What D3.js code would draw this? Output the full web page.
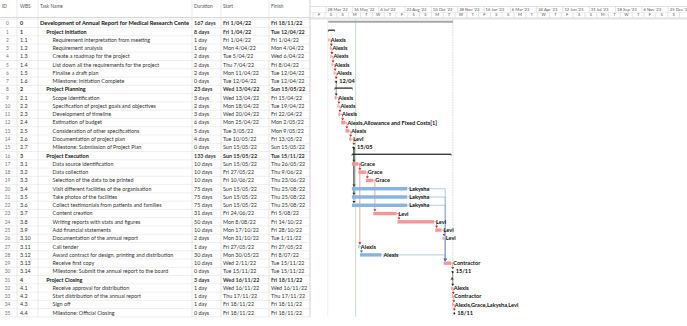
<!DOCTYPE html>
<html lang="en">
<head>
<meta charset="UTF-8">
<title>Annual Report Schedule</title>
<style>
  body { margin: 0; background: #fff; }
  svg text { font-family: Lato, "Liberation Sans", sans-serif; }
</style>
</head>
<body>
<script src="https://d3js.org/d3.v7.min.js"></script>
<div id="gantt"></div>
<script>
// ---- schedule data ----
var wbs = ["0","1","1.1","1.2","1.3","1.4","1.5","1.6","2","2.1","2.2","2.3","2.4","2.5","2.6","2.7",
  "3","3.1","3.2","3.3","3.4","3.5","3.6","3.7","3.8","3.9","3.10","3.11","3.12","3.13","3.14",
  "4","4.1","4.2","4.3","4.4"];
var names = [
  "Development of Annual Report for Medical Research Cente",
  "Project Initiation",
  "Requirement interpretation from meeting",
  "Requirement analysis",
  "Create a roadmap for the project",
  "List down all the requirements  for the project",
  "Finalise a draft plan",
  "Milestone: Initiation Complete",
  "Project Planning",
  "Scope identification",
  "Specification of project goals and objectives",
  "Development of timeline",
  "Estimation of budget",
  "Consideration of other specifications",
  "Documentation of project plan",
  "Milestone: Submission of Project Plan",
  "Project Execution",
  "Data source identification",
  "Data collection",
  "Selection of the data to be printed",
  "Visit different facilities of the organisation",
  "Take photos of the facilities",
  "Collect testimonials from patients and families",
  "Content creation",
  "Writing reports with stats and figures",
  "Add financial statements",
  "Documentation of the annual report",
  "Call tender",
  "Award contract for design, printing and distribution",
  "Receive first copy",
  "Milestone: Submit the annual report to the board",
  "Project Closing",
  "Receive approval for distribution",
  "Start distribution of the annual report",
  "Sign off",
  "Milestone: Official Closing"
];
var levels = [0,1,2,2,2,2,2,2,1,2,2,2,2,2,2,2,1,2,2,2,2,2,2,2,2,2,2,2,2,2,2,1,2,2,2,2];
var kinds = ["project","summary","task","task","task","task","task","milestone",
  "summary","task","task","task","task","task","task","milestone",
  "summary","task","task","task","task","task","task","task","task","task","task","task","task","task","milestone",
  "summary","task","task","task","milestone"];
var durations = [167,8,1,1,2,2,2,0,23,3,2,3,6,5,4,0,133,10,10,10,75,75,75,31,50,10,2,1,30,10,0,3,1,1,1,0];
var starts = ["2022-04-01","2022-04-01","2022-04-01","2022-04-04","2022-04-05","2022-04-07","2022-04-11","2022-04-12",
  "2022-04-13","2022-04-13","2022-04-18","2022-04-20","2022-04-25","2022-05-03","2022-05-10","2022-05-15",
  "2022-05-15","2022-05-15","2022-05-27","2022-06-10","2022-05-15","2022-05-15","2022-05-15","2022-06-24",
  "2022-08-08","2022-10-17","2022-10-31","2022-05-27","2022-05-30","2022-11-02","2022-11-15",
  "2022-11-16","2022-11-16","2022-11-17","2022-11-18","2022-11-18"];
var finishes = ["2022-11-18","2022-04-12","2022-04-01","2022-04-04","2022-04-06","2022-04-08","2022-04-12","2022-04-12",
  "2022-05-15","2022-04-15","2022-04-19","2022-04-22","2022-05-02","2022-05-09","2022-05-13","2022-05-15",
  "2022-11-15","2022-05-26","2022-06-09","2022-06-23","2022-08-25","2022-08-25","2022-08-25","2022-08-05",
  "2022-10-14","2022-10-28","2022-11-01","2022-05-27","2022-07-08","2022-11-15","2022-11-15",
  "2022-11-18","2022-11-16","2022-11-17","2022-11-18","2022-11-18"];
var resources = ["","","Alexis","Alexis","Alexis","Alexis","Alexis","",
  "","Alexis","Alexis","Alexis","Alexis,Allowance and Fixed Costs[1]","Alexis","Levi","",
  "","Grace","Grace","Grace","Lakysha","Lakysha","Lakysha","Levi","Levi","Levi","Levi","Alexis","Alexis","Contractor","",
  "","Alexis","Contractor","Alexis,Grace,Lakysha,Levi",""];
var critical = [1,1,1,1,1,1,1,1,1,1,1,1,1,1,1,1,1,1,1,1,0,0,0,1,1,1,1,0,0,1,1,1,1,1,1,1];
var predecessors = [[],[],[],[2],[3],[4],[5],[6],[],[7],[9],[10],[11],[12],[13],[14],
  [],[15],[17],[18],[15],[15],[15],[19],[23],[24],[25],[17],[27],[26,28,20,21,22],[29],
  [],[30],[32],[33],[34]];

var statusDate = "2022-05-22";
var headers = ["ID", "WBS", "Task Name", "Duration", "Start", "Finish"];

// ---- layout ----
var W = 687, H = 326;
var parse = d3.timeParse("%Y-%m-%d");
var fmtDate = d3.timeFormat("%a %-d/%m/%y");
var fmtMile = d3.timeFormat("%d/%m");
var fmtTop = d3.timeFormat("%-d %b '%y");
var fmtDay = d3.timeFormat("%a");

var tasks = wbs.map(function(w, i) {
  return { id: i, wbs: w, name: names[i], level: levels[i], kind: kinds[i], dur: durations[i],
    start: parse(starts[i]), finish: parse(finishes[i]), res: resources[i],
    crit: critical[i] === 1, preds: predecessors[i] };
});

var chartLeft = 310;
var x = d3.scaleTime()
  .domain([new Date(2022, 1, 26), new Date(2024, 0, 29)])
  .range([chartLeft, W]);

var y = d3.scaleBand()
  .domain(tasks.map(function(d) { return d.id; }))
  .range([19.2, 19.2 + 36 * 8.27]);
var rowH = y.bandwidth();
function cy(d) { return y(d.id) + rowH / 2; }
function xStart(d) { return x(d.start); }
function xEnd(d) { return x(d3.timeDay.offset(d.finish, 1)); }

var cols = [0, 17, 38, 192, 221, 269, chartLeft];

var svg = d3.select("#gantt").append("svg")
  .attr("width", W).attr("height", H);

// ---- table ----
var table = svg.append("g");
var tableBottom = y.range()[1];

// name column clip, in each row's local coordinates
table.append("clipPath").attr("id", "nameClip")
  .append("rect").attr("x", cols[2]).attr("y", -8).attr("width", cols[3] - cols[2] - 0.5).attr("height", 12);

// row separators
table.selectAll("line.row")
  .data(d3.range(37))
  .join("line")
  .attr("x1", 0).attr("x2", chartLeft)
  .attr("y1", function(i) { return 19.2 + i * 8.27; })
  .attr("y2", function(i) { return 19.2 + i * 8.27; })
  .attr("stroke", "#e4e4e4").attr("stroke-width", 0.6);

// column separators
table.selectAll("line.col")
  .data(cols.slice(1))
  .join("line")
  .attr("x1", function(c) { return c; }).attr("x2", function(c) { return c; })
  .attr("y1", 0).attr("y2", tableBottom)
  .attr("stroke", "#dcdcdc").attr("stroke-width", 0.6);

table.append("line")
  .attr("x1", 0).attr("x2", chartLeft).attr("y1", 17.5).attr("y2", 17.5)
  .attr("stroke", "#cfcfcf").attr("stroke-width", 0.8);

// header labels
var headX = [2, 20, 40, 194, 223, 271];
table.selectAll("text.head")
  .data(headers)
  .join("text")
  .attr("x", function(d, i) { return headX[i]; })
  .attr("y", 7.5)
  .attr("font-size", 4.8)
  .attr("fill", "#555")
  .text(function(d) { return d; });

var rows = table.selectAll("g.trow")
  .data(tasks)
  .join("g")
  .attr("transform", function(d) { return "translate(0," + (cy(d) + 1.9) + ")"; })
  .attr("font-size", 5.4)
  .attr("fill", "#333");

function isBold(d) { return d.kind === "project" || d.kind === "summary"; }

rows.append("text").attr("x", 7.5).attr("text-anchor", "middle")
  .attr("fill", "#777").attr("font-size", 4.8)
  .text(function(d) { return d.id; });
rows.append("text").attr("x", 20)
  .attr("font-weight", function(d) { return isBold(d) ? "bold" : null; })
  .text(function(d) { return d.wbs; });
rows.append("text")
  .attr("clip-path", "url(#nameClip)")
  .attr("x", function(d) { return 40 + d.level * 6.3; })
  .attr("font-weight", function(d) { return isBold(d) ? "bold" : null; })
  .attr("fill", function(d) { return isBold(d) ? "#111" : "#333"; })
  .attr("font-size", function(d) { return d.kind === "project" ? 5.7 : 5.4; })
  .text(function(d) { return d.name; });
rows.append("text").attr("x", 194)
  .attr("font-weight", function(d) { return isBold(d) ? "bold" : null; })
  .text(function(d) { return d.dur + (d.dur === 1 ? " day" : " days"); });
rows.append("text").attr("x", 223)
  .attr("font-weight", function(d) { return isBold(d) ? "bold" : null; })
  .text(function(d) { return fmtDate(d.start); });
rows.append("text").attr("x", 271)
  .attr("font-weight", function(d) { return isBold(d) ? "bold" : null; })
  .text(function(d) { return fmtDate(d.finish); });

// ---- timescale header ----
var head = svg.append("g");
var topTicks = d3.range(-1, 14).map(function(i) { return d3.timeDay.offset(new Date(2022, 2, 28), 49 * i); });
var dayTicks = d3.range(0, 33).map(function(i) { return d3.timeDay.offset(new Date(2022, 2, 4), 22 * i); });

head.append("clipPath").attr("id", "headClip")
  .append("rect").attr("x", chartLeft).attr("y", 0).attr("width", W - chartLeft).attr("height", 20);

head.append("line").attr("x1", chartLeft).attr("x2", W).attr("y1", 6.5).attr("y2", 6.5)
  .attr("stroke", "#d0d0d0").attr("stroke-width", 0.6);
head.append("line").attr("x1", chartLeft).attr("x2", W).attr("y1", 12.5).attr("y2", 12.5)
  .attr("stroke", "#e0e0e0").attr("stroke-width", 0.5);
head.append("rect").attr("x", chartLeft).attr("y", 17.3).attr("width", W - chartLeft).attr("height", 2.2)
  .attr("fill", "#e3e3e3");

head.selectAll("line.top")
  .data(topTicks.filter(function(t) { return x(t) > chartLeft; }))
  .join("line")
  .attr("x1", function(t) { return x(t); }).attr("x2", function(t) { return x(t); })
  .attr("y1", 6.5).attr("y2", 12.5)
  .attr("stroke", "#c8c8c8").attr("stroke-width", 0.5);
head.append("g").attr("clip-path", "url(#headClip)")
  .selectAll("text.top")
  .data(topTicks.filter(function(t) { return x(t) > chartLeft && x(t) < W - 6; }))
  .join("text")
  .attr("x", function(t) { return x(t) + 1.5; })
  .attr("y", 11)
  .attr("font-size", 4.2)
  .attr("fill", "#555")
  .text(function(t) { return fmtTop(t); });

head.selectAll("line.day")
  .data(dayTicks.filter(function(t) { return x(t) > chartLeft && x(t) < W; }))
  .join("line")
  .attr("x1", function(t) { return x(t); }).attr("x2", function(t) { return x(t); })
  .attr("y1", 12.5).attr("y2", 17.3)
  .attr("stroke", "#c8c8c8").attr("stroke-width", 0.5);
head.selectAll("text.day")
  .data(dayTicks.filter(function(t) { return x(d3.timeDay.offset(t, 11)) < W - 2; }))
  .join("text")
  .attr("x", function(t) { return x(d3.timeDay.offset(t, 11)); })
  .attr("y", 16.3)
  .attr("text-anchor", "middle")
  .attr("font-size", 4.2)
  .attr("fill", "#555")
  .text(function(t) { return fmtDay(t).charAt(0); });

// ---- gantt body ----
var body = svg.append("g");
var proj = tasks[0];

body.append("line")
  .attr("x1", chartLeft).attr("x2", chartLeft).attr("y1", 0).attr("y2", tableBottom)
  .attr("stroke", "#cfcfcf").attr("stroke-width", 0.6);
body.append("line")
  .attr("x1", xStart(proj) - 0.5).attr("x2", xStart(proj) - 0.5).attr("y1", 19.5).attr("y2", tableBottom)
  .attr("stroke", "#bdbdbd").attr("stroke-width", 0.5).attr("stroke-dasharray", "1,1");
body.append("line")
  .attr("x1", xEnd(proj)).attr("x2", xEnd(proj)).attr("y1", 19.5).attr("y2", tableBottom)
  .attr("stroke", "#b0b0b0").attr("stroke-width", 0.5).attr("stroke-dasharray", "1.5,1");
body.append("line")
  .attr("x1", x(parse(statusDate))).attr("x2", x(parse(statusDate)))
  .attr("y1", 19.5).attr("y2", tableBottom)
  .attr("stroke", "#9ccf9c").attr("stroke-width", 0.6);

var barH = 3.4;
var red = "#f39797", blue = "#86b5e5";

function milestoneX(d) { return xEnd(d); }
function topOf(d) {
  if (d.kind === "milestone") return cy(d) - 1.8;
  return cy(d) - barH / 2;
}
function linkColor(p) {
  if (p.kind === "milestone") return "#4a4a4a";
  return p.crit ? "#e26a6a" : "#7ea9d9";
}
function arrowColor(p) {
  if (p.kind === "milestone") return "#222";
  return p.crit ? "#c0282d" : "#3f78b8";
}

// dependency links
var links = [];
tasks.forEach(function(t) {
  t.preds.forEach(function(p) { links.push({ from: tasks[p], to: t }); });
});
var linkG = body.append("g");
links.forEach(function(l) {
  var p = l.from, s = l.to;
  var xe = p.kind === "milestone" ? milestoneX(p) : xEnd(p);
  var xs = s.kind === "milestone" ? milestoneX(s) : xStart(s);
  var drop = Math.max(xs, xe) + 1.5;
  var ty = topOf(s) - 0.3;
  linkG.append("path")
    .attr("d", "M" + xe + "," + cy(p) + "H" + drop + "V" + (ty - 2))
    .attr("fill", "none")
    .attr("stroke", linkColor(p))
    .attr("stroke-width", 0.6);
  linkG.append("path")
    .attr("d", "M" + (drop - 1.5) + "," + (ty - 2.3) + "L" + (drop + 1.5) + "," + (ty - 2.3) + "L" + drop + "," + ty + "Z")
    .attr("fill", arrowColor(p));
});

// project summary bar
body.append("rect")
  .attr("x", xStart(proj)).attr("y", cy(proj) - 2.6)
  .attr("width", xEnd(proj) - xStart(proj)).attr("height", 2)
  .attr("fill", "#a6a6a6");

// summary bars
var sums = tasks.filter(function(d) { return d.kind === "summary"; });
body.selectAll("rect.sum")
  .data(sums)
  .join("rect")
  .attr("x", xStart)
  .attr("y", function(d) { return cy(d) - 2; })
  .attr("width", function(d) { return xEnd(d) - xStart(d); })
  .attr("height", 1.2)
  .attr("fill", "#1e1e1e");
body.selectAll("path.sumEnd")
  .data(sums.reduce(function(a, d) {
    return a.concat([{ x: xStart(d), y: cy(d) - 0.8 }, { x: xEnd(d), y: cy(d) - 0.8 }]);
  }, []))
  .join("path")
  .attr("d", function(e) {
    return "M" + (e.x - 0.7) + "," + e.y + "l1.4,0l-0.7,1Z";
  })
  .attr("fill", "#1e1e1e");

// task bars
var plain = tasks.filter(function(d) { return d.kind === "task"; });
body.selectAll("rect.task")
  .data(plain)
  .join("rect")
  .attr("x", xStart)
  .attr("y", function(d) { return cy(d) - barH / 2; })
  .attr("width", function(d) { return Math.max(1, xEnd(d) - xStart(d)); })
  .attr("height", barH)
  .attr("fill", function(d) { return d.crit ? red : blue; });

// milestones
var miles = tasks.filter(function(d) { return d.kind === "milestone"; });
body.selectAll("path.mile")
  .data(miles)
  .join("path")
  .attr("d", function(d) {
    var mx = milestoneX(d) + 1.5, my = cy(d) + 0.6;
    return "M" + mx + "," + (my - 1.4) + "L" + (mx + 1.1) + "," + my + "L" + mx + "," + (my + 1.4) + "L" + (mx - 1.1) + "," + my + "Z";
  })
  .attr("fill", "#222");

// bar labels
body.selectAll("text.res")
  .data(plain.concat(miles))
  .join("text")
  .attr("x", function(d) { return d.kind === "milestone" ? milestoneX(d) + 4.5 : xEnd(d) + 2; })
  .attr("y", function(d) { return cy(d) + 2; })
  .attr("font-size", 5.6)
  .attr("font-weight", "bold")
  .attr("fill", "#111")
  .text(function(d) { return d.kind === "milestone" ? fmtMile(d.finish) : d.res; });
</script>
</body>
</html>
